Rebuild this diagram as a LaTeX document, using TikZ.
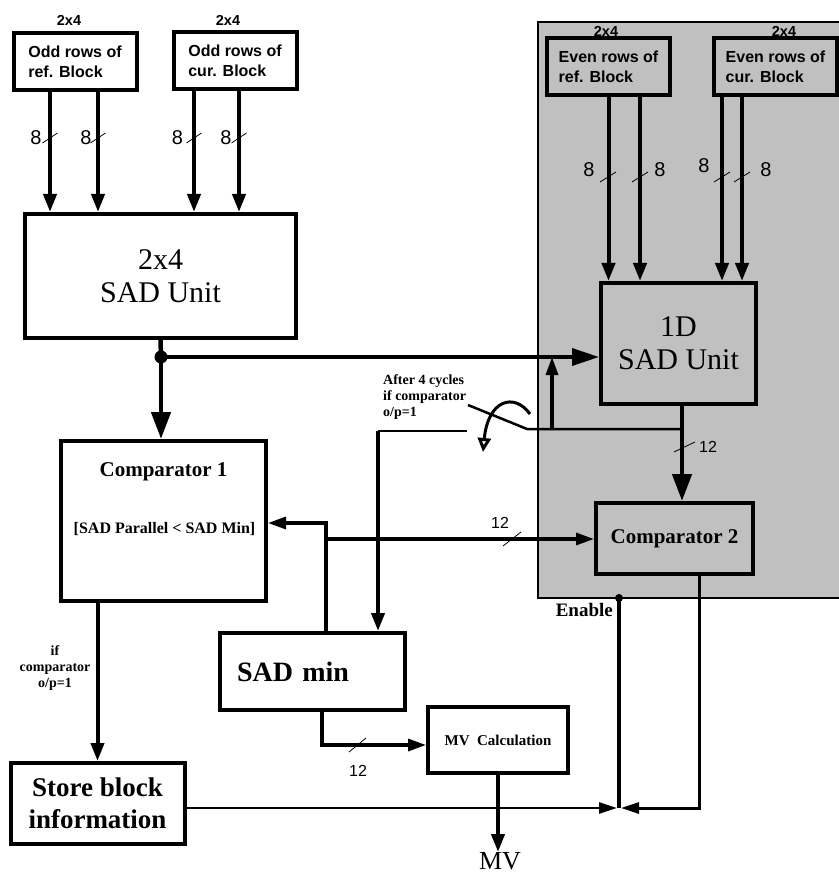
\documentclass[tikz,border=0pt]{standalone}
\usepackage{fontspec}
\setmainfont{Liberation Serif}
\newfontfamily\arialfont{Liberation Sans}
\usetikzlibrary{arrows.meta,calc}
\definecolor{blockgray}{RGB}{192,192,192}

\begin{document}
\begin{tikzpicture}[x=1pt, y=-1pt,
    blk/.style={rectangle, draw, line width=4pt, inner sep=0pt, align=center},
    rowblk/.style={blk, minimum width=123pt, minimum height=57pt, align=left,
                   font=\arialfont\bfseries\fontsize{16}{20}\selectfont},
    arr/.style={line width=4pt, -{Triangle[length=18pt,width=13pt]}},
    bigarr/.style={line width=4.5pt, -{Triangle[length=27pt,width=19pt]}},
    marr/.style={line width=3.2pt, -{Triangle[length=18pt,width=12pt]}},
    wire/.style={line width=2.5pt},
    tick/.style={line width=0.8pt},
    lbl/.style={inner sep=0pt},
    buslbl/.style={lbl, font=\arialfont\fontsize{20}{20}\selectfont},
    widthlbl/.style={lbl, font=\arialfont\fontsize{16}{16}\selectfont},
    sizelbl/.style={lbl, font=\arialfont\bfseries\fontsize{14.5}{14.5}\selectfont},
    note/.style={lbl, font=\bfseries\fontsize{14}{16}\selectfont}]

    \useasboundingbox (0,0) rectangle (838,874);

    % shaded part (1D path)
    \fill[blockgray] (538,22) rectangle (842,598);
    \draw[line width=1.5pt] (842,22) -- (538,22) -- (538,598) -- (842,598);

    % input row blocks
    \node[rowblk] (oddref)  at (75,61.5)  {Odd rows of\\ref. Block};
    \node[rowblk] (oddcur)  at (235,61)   {Odd rows of\\cur. Block};
    \node[rowblk] (evenref) at (608.5,67) {Even rows of\\ref. Block};
    \node[rowblk] (evencur) at (775.5,67) {Even rows of\\cur. Block};

    \node[sizelbl] (szoddref)  at (69,20)  {2x4};
    \node[sizelbl] (szoddcur)  at (228,20) {2x4};
    \node[sizelbl] (szevenref) at (606,31) {2x4};
    \node[sizelbl] (szevencur) at (784,31) {2x4};

    % processing blocks
    \node[blk, minimum width=271pt, minimum height=124pt,
          font=\fontsize{30}{33}\selectfont] (sad2x4) at (160.5,276) {2x4\\SAD Unit};
    \node[blk, minimum width=155pt, minimum height=121pt,
          font=\fontsize{30}{33}\selectfont] (sad1d) at (678.5,343.5) {1D\\SAD Unit};
    \node[blk, minimum width=205pt, minimum height=160pt] (comp1) at (163.5,521) {};
    \node[lbl, font=\bfseries\fontsize{21}{21}\selectfont] (comp1t)
          at ($(comp1.north)+(0,33)$) {Comparator 1};
    \node[lbl, font=\bfseries\fontsize{16}{16}\selectfont] (comp1c)
          at ($(comp1.north)+(1,90)$) {[SAD Parallel < SAD Min]};
    \node[blk, minimum width=157pt, minimum height=71pt,
          font=\bfseries\fontsize{21}{21}\selectfont] (comp2) at (674.5,538.5) {Comparator 2};
    \node[blk, minimum width=185pt, minimum height=77pt, text width=151pt,
          inner xsep=17pt, align=left,
          font=\bfseries\fontsize{28}{28}\selectfont] (sadmin) at (312.5,671.5) {SAD min};
    \node[blk, minimum width=140pt, minimum height=66pt,
          font=\bfseries\fontsize{15}{15}\selectfont] (mvcalc) at (498,740) {MV\ \ Calculation};
    \node[blk, minimum width=174pt, minimum height=81pt,
          font=\bfseries\fontsize{27}{32}\selectfont] (store) at (97.5,803.5) {Store block\\information};
    \node[lbl, font=\fontsize{26}{26}\selectfont, anchor=north] (mv) at (500,852) {MV};

    % junction points
    \coordinate (split)    at (161,357);
    \coordinate (upfeed)   at (552,429);
    \coordinate (swknee)   at (527,429);
    \coordinate (swtip)    at (468,405);
    \coordinate (contact)  at (467,431);
    \coordinate (contactc) at (378,431);
    \coordinate (fbk)      at (326,523);
    \coordinate (fbj)      at (326,539);
    \coordinate (mvknee)   at (322,745);
    \coordinate (enable)   at (619,598);
    \coordinate (junc)     at (619,808);
    \coordinate (cmpknee)  at (699,808);

    % row inputs
    \draw[arr] ([xshift=-25pt]oddref.south) -- ([xshift=-25pt]oddref.south |- sad2x4.north);
    \draw[arr] ([xshift=23pt]oddref.south)  -- ([xshift=23pt]oddref.south |- sad2x4.north);
    \draw[arr] ([xshift=-41pt]oddcur.south) -- ([xshift=-41pt]oddcur.south |- sad2x4.north);
    \draw[arr] ([xshift=4pt]oddcur.south)   -- ([xshift=4pt]oddcur.south |- sad2x4.north);
    \draw[arr] (evenref.south) -- (evenref.south |- sad1d.north);
    \draw[arr] ([xshift=31.5pt]evenref.south)  -- ([xshift=31.5pt]evenref.south |- sad1d.north);
    \draw[arr] ([xshift=-53.5pt]evencur.south) -- ([xshift=-53.5pt]evencur.south |- sad1d.north);
    \draw[arr] ([xshift=-33.5pt]evencur.south) -- ([xshift=-33.5pt]evencur.south |- sad1d.north);

    % bus widths of the inputs
    \foreach \bx/\lx in {50/36, 98/86, 194/177.5, 239/226}{
        \draw[tick] (\bx-7.5,143) -- (\bx+7.5,133);
        \node[buslbl] at (\lx,138) {8};
    }
    \foreach \bx/\lx/\ly in {608/589/170, 640/660/170, 722/704/166, 742/766/170}{
        \draw[tick] (\bx-8,182) -- (\bx+8,172);
        \node[buslbl] at (\lx,\ly) {8};
    }

    % 2x4 SAD output
    \draw[line width=4.5pt] (sad2x4.south) -- (split);
    \fill (split) circle (6.5pt);
    \draw[bigarr] (split) -- (split |- comp1.north);
    \draw[line width=3.5pt, -{Triangle[length=27pt,width=17pt]}] (split) -- (split -| sad1d.west);

    % 1D SAD output and switch
    \draw[bigarr] ([xshift=3.5pt]sad1d.south) -- ([xshift=3.5pt]sad1d.south |- comp2.north);
    \draw[tick] (674,452) -- (695,442);
    \node[widthlbl] at (708,447) {12};
    \draw[wire] ([xshift=3.5pt]sad1d.south |- upfeed) -- (swknee) -- (swtip);
    \draw[marr] (upfeed) -- (upfeed |- split);
    \draw[wire] (contact) -- (contactc);
    \draw[arr] (contactc) -- (contactc |- sadmin.north);
    \draw[line width=3pt, -{Triangle[open,length=14pt,width=13pt]}]
        (530,414) .. controls (514,392) and (488,400) .. (483,452);
    \node[note, anchor=north west, align=left] (swnote) at (383,374)
        {After 4 cycles\\if comparator\\o/p=1};

    % SAD min feedback
    \draw[marr] ([xshift=13.5pt]sadmin.north) -- (fbk) -- (fbk -| comp1.east);
    \draw[marr] (fbj) -- (fbj -| comp2.west);
    \draw[tick] (503,546) -- (521,532);
    \node[widthlbl] at (500,523) {12};
    \draw[marr] ([xshift=9.5pt]sadmin.south) -- (mvknee) -- (mvknee -| mvcalc.west);
    \draw[tick] (349,752) -- (366,738);
    \node[widthlbl] at (358,771) {12};
    \draw[arr] (mvcalc.south) -- (mvcalc.south |- mv.north);

    % store block and enable
    \draw[arr] (store.north |- comp1.south) -- (store.north);
    \node[note, align=center] (storenote) at (55,668) {if\\comparator\\o/p=1};
    \draw[line width=2.5pt, -{Triangle[length=18pt,width=11pt]}]
        ([yshift=-4.5pt]store.east) -- ([xshift=-2pt]junc);
    \draw[line width=3pt, -{Triangle[length=18pt,width=11pt]}]
        ([xshift=24.5pt]comp2.south) -- (cmpknee) -- ([xshift=2pt]junc);
    \draw[line width=4pt] (junc) -- (enable);
    \fill (enable) circle (4pt);
    \node[lbl, anchor=east, font=\bfseries\fontsize{19}{19}\selectfont] (enablelbl)
        at (613,610) {Enable};
\end{tikzpicture}
\end{document}
